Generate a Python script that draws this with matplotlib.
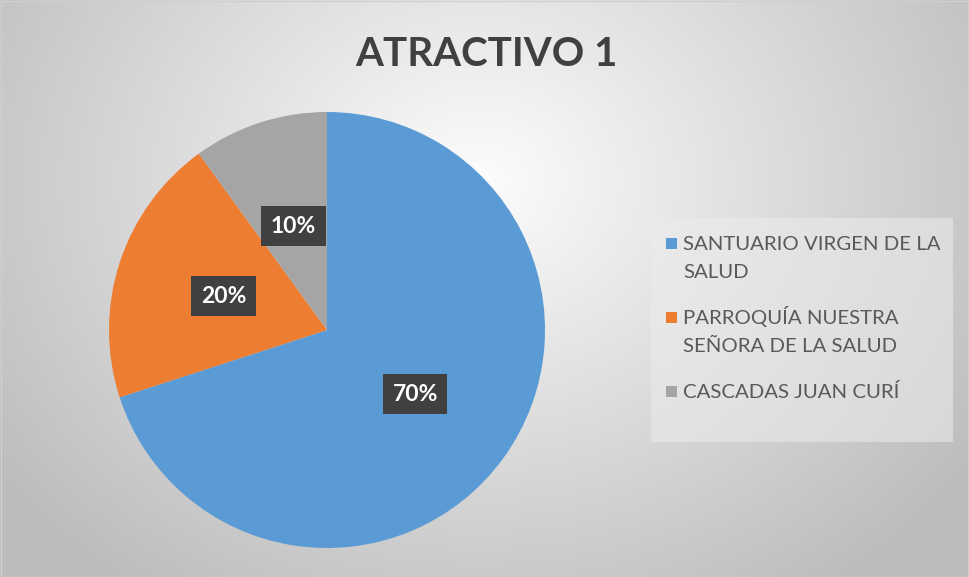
import numpy as np
import matplotlib.pyplot as plt
from matplotlib.patches import Rectangle

# Data
categories = ["SANTUARIO VIRGEN DE LA\nSALUD", "PARROQUÍA NUESTRA\nSEÑORA DE LA SALUD", "CASCADAS JUAN CURÍ"]
values = [70, 20, 10]
colors = ["#5B9BD5", "#ED7D31", "#A5A5A5"]
title = "ATRACTIVO 1"

W, H = 969, 577
fig = plt.figure(figsize=(W / 100, H / 100), dpi=100)

# Radial gradient background (pixel coords, y down)
bg = fig.add_axes([0, 0, 1, 1])
yy, xx = np.mgrid[0:H, 0:W]
d = np.sqrt(((xx - 480) / 620.0) ** 2 + ((yy - 180) / 520.0) ** 2)
shade = np.clip(0.99 - 0.26 * d, 0.74, 1.0)
bg.imshow(np.dstack([shade] * 3), extent=[0, W, H, 0], aspect="auto")
bg.add_patch(Rectangle((0.5, 0.5), W - 1, H - 1, fill=False, ec="#cfcfcf", lw=1))
bg.set_xlim(0, W)
bg.set_ylim(H, 0)
bg.axis("off")

# Pie
cx, cy, r = 327, 330, 218
ax = fig.add_axes([(cx - r) / W, (H - cy - r) / H, 2 * r / W, 2 * r / H])
wedges, texts, autotexts = ax.pie(
    values, colors=colors, startangle=90, counterclock=False,
    autopct="%1.0f%%", pctdistance=0.5,
    wedgeprops=dict(linewidth=0),
    textprops=dict(color="white", fontsize=16.5, fontweight="bold", family="Lato"),
)
for t in autotexts:
    t.set_bbox(dict(boxstyle="square,pad=0.42", fc="#404040", ec="none"))
ax.set_xlim(-1, 1)
ax.set_ylim(-1, 1)

# Title
fig.text(486 / W, 1 - 55 / H, title, ha="center", va="center",
         fontsize=29, fontweight="bold", color="#404040", family="Lato")

# Legend (drawn by hand for Excel-like line spacing)
bg.add_patch(Rectangle((651, 218), 302, 224, fc="#ececec", ec="none", alpha=0.55))
base = 250
line_step = 28
entry_gap = 46
for label, col in zip(categories, colors):
    lines = label.split("\n")
    bg.add_patch(Rectangle((666, base - 12), 11, 11, fc=col, ec="none"))
    for i, ln in enumerate(lines):
        bg.text(683, base + i * line_step, ln, ha="left", va="baseline",
                fontsize=14.7, family="Lato", color="#595959")
    base += (len(lines) - 1) * line_step + entry_gap

fig.savefig("out.png", dpi=100)
